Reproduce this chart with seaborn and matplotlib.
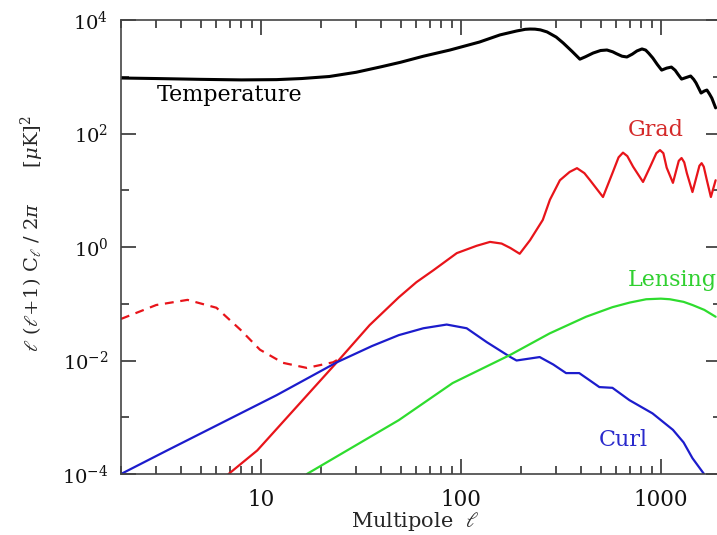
import numpy as np
import pandas as pd
import matplotlib
matplotlib.use("Agg")
import matplotlib.pyplot as plt
import matplotlib.ticker as mticker
import seaborn as sns

# ---- data ----
temp_l = [2, 3, 5, 8, 12, 16, 22, 30, 40, 50, 65, 88, 124, 157, 190, 210, 222, 235, 250, 270, 300, 325,
          360, 394, 420, 459, 500, 538, 575, 600, 640, 677, 720, 760, 805, 840, 870, 912, 960, 1010,
          1070, 1130, 1180, 1220, 1270, 1340, 1410, 1460, 1500, 1590, 1650, 1700, 1750, 1800, 1880]
temp_v = [950, 930, 900, 880, 890, 930, 1010, 1200, 1500, 1800, 2300, 2950, 4090, 5460, 6400, 6850,
          6930, 6900, 6700, 6160, 5000, 3940, 2800, 2040, 2250, 2620, 2900, 2960, 2750, 2550, 2300,
          2230, 2500, 2850, 3090, 2950, 2600, 2140, 1650, 1310, 1420, 1480, 1300, 1100, 910, 970,
          1030, 900, 780, 517, 560, 583, 500, 420, 283]

grad_l = [6.9, 9.6, 24, 35, 49, 60, 73, 95.5, 120, 140, 160, 177, 197, 222, 257, 279, 313, 350, 381,
          415, 443, 514, 573, 615, 647, 680, 727, 815, 885, 950, 991, 1030, 1070, 1150, 1230, 1270,
          1310, 1350, 1440, 1560, 1600, 1640, 1700, 1780, 1880]
grad_v = [1e-4, 2.6e-4, 9.3e-3, 0.042, 0.13, 0.24, 0.39, 0.78, 1.05, 1.23, 1.15, 0.96, 0.76, 1.32, 3.0,
          6.8, 15, 21, 24.5, 20, 15, 7.6, 20, 38, 46, 40, 26, 14, 26, 45, 51, 45, 25, 13.5, 33, 37,
          31, 20, 9.3, 27, 30, 26, 15, 7.6, 15]

grad_reion_l = [2, 3, 4.3, 6.0, 7.9, 9.9, 12.9, 17, 23, 25]
grad_reion_v = [0.054, 0.095, 0.117, 0.085, 0.035, 0.0155, 0.0091, 0.0074, 0.0093, 0.011]

curl_l = [2, 3.4, 12, 24, 36, 49, 65, 85, 107, 135, 177, 190, 220, 248, 290, 336, 391, 440, 493, 573,
          697, 909, 1150, 1300, 1440, 1645]
curl_v = [1e-4, 2.6e-4, 2.45e-3, 9.3e-3, 0.018, 0.028, 0.037, 0.043, 0.037, 0.021, 0.0115, 0.010, 0.0108,
          0.0115, 0.0085, 0.006, 0.006, 0.0045, 0.0034, 0.0033, 0.002, 0.00117, 6e-4, 3.6e-4, 1.9e-4, 1e-4]

lens_l = [17, 27, 49, 91, 177, 278, 423, 573, 700, 845, 1000, 1110, 1300, 1440, 1650, 1880]
lens_v = [1e-4, 2.6e-4, 8.9e-4, 4e-3, 0.0126, 0.030, 0.059, 0.087, 0.105, 0.12, 0.123, 0.12, 0.108,
          0.095, 0.078, 0.059]

x_ticks = [10, 100, 1000]
x_tick_labels = ["10", "100", "1000"]
y_ticks = [1e-4, 1e-2, 1e0, 1e2, 1e4]
y_tick_labels = [r"$10^{-4}$", r"$10^{-2}$", r"$10^{0}$", r"$10^{2}$", r"$10^{4}$"]

# ---- style ----
sns.set_style("ticks")
plt.rcParams["font.family"] = ["DejaVu Serif", "DejaVu Sans"]
plt.rcParams["mathtext.fontset"] = "dejavuserif"

fig = plt.figure(figsize=(7.17, 5.35), dpi=100)
ax = fig.add_axes([121 / 717, 61 / 535, 600 / 717, 454 / 535])

BLACK = "#000000"
RED = "#e8141a"
BLUE = "#1c1ccc"
GREEN = "#2edc2e"

def draw(lv, vv, color, lw, ls="-"):
    df = pd.DataFrame({"l": lv, "v": vv})
    sns.lineplot(data=df, x="l", y="v", ax=ax, color=color, lw=lw, linestyle=ls,
                 estimator=None, sort=False, legend=False)

draw(temp_l, temp_v, BLACK, 2.2)
draw(grad_l, grad_v, RED, 1.6)
draw(grad_reion_l, grad_reion_v, RED, 1.6, (0, (4, 3)))
draw(curl_l, curl_v, BLUE, 1.6)
draw(lens_l, lens_v, GREEN, 1.6)

ax.set_xscale("log")
ax.set_yscale("log")
ax.set_xlim(2, 2000)
ax.set_ylim(1e-4, 1e4)

ax.set_xticks(x_ticks)
ax.set_xticklabels(x_tick_labels)
ax.xaxis.set_minor_locator(mticker.LogLocator(base=10, subs=np.arange(2, 10)))
ax.xaxis.set_minor_formatter(mticker.NullFormatter())
ax.set_yticks(y_ticks)
ax.set_yticklabels(y_tick_labels)
ax.yaxis.set_minor_locator(mticker.FixedLocator([1e-3, 1e-1, 1e1, 1e3]))
ax.yaxis.set_minor_formatter(mticker.NullFormatter())

ax.tick_params(which="both", direction="in", top=True, right=True, colors="#333333",
               labelcolor="#111111", width=1.2)
ax.tick_params(axis="y", labelsize=14)
ax.tick_params(axis="x", labelsize=15.5)
ax.tick_params(which="major", length=11, pad=9)
ax.tick_params(axis="x", which="major", pad=11)
ax.tick_params(axis="x", which="minor", length=6)
ax.tick_params(axis="y", which="minor", length=6)
for s in ax.spines.values():
    s.set_linewidth(1.2)
    s.set_color("#444444")

ax.set_xlabel(r"Multipole  $\ell$", fontsize=15)
ax.xaxis.set_label_coords(0.49, -0.08)
ax.set_ylabel(r"$\ell\ (\ell\!+\!1)\ \mathrm{C}_\ell\ /\ 2\pi$      $[\mu\mathrm{K}]^2$", fontsize=14)
ax.yaxis.set_label_coords(-0.125, 0.53)

ax.text(7.0, 480, "Temperature", color=BLACK, fontsize=16, ha="center", va="center")
ax.text(946, 115, "Grad", color="#d42a2a", fontsize=16, ha="center", va="center")
ax.text(686, 0.26, "Lensing", color="#30d030", fontsize=16, ha="left", va="center")
ax.text(647, 4e-4, "Curl", color="#2a2acc", fontsize=16, ha="center", va="center")

fig.savefig("out.png", dpi=100)
